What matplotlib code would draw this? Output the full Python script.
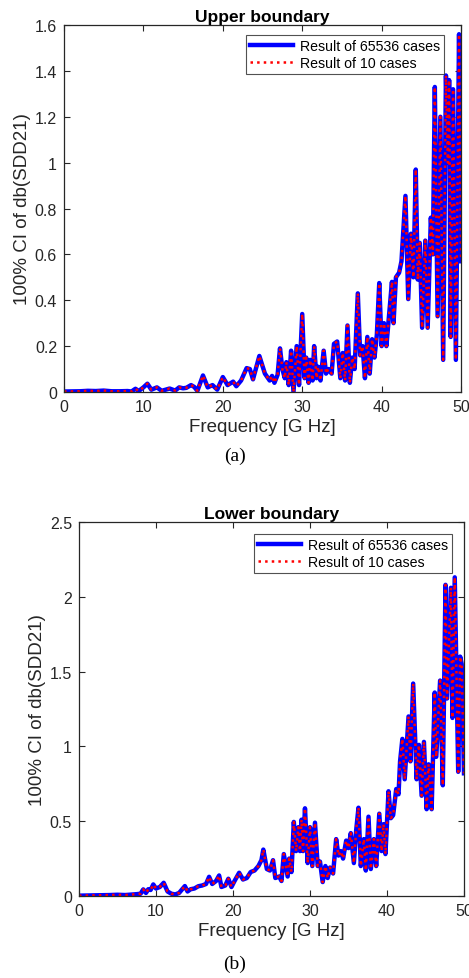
import numpy as np
import matplotlib
matplotlib.use("Agg")
import matplotlib.pyplot as plt
from matplotlib.ticker import FuncFormatter

# --- data (frequency in GHz, CI width)
up_freq = [0, 2, 3, 4, 5, 6, 7, 8, 8.5, 9.0, 9.4, 10.0, 10.5, 11.0, 11.7, 12.3,
           13.0, 13.3, 14.0, 14.5, 15.0, 15.4, 16.0, 16.4, 16.8, 17.5, 18.1,
           18.7, 19.3, 20.0, 20.6, 21.3, 21.7, 22.3, 23.0, 23.4, 23.8, 24.6,
           25.3, 25.9, 26.2, 26.5, 26.9, 27.2, 27.5, 27.8, 28.0, 28.3, 28.6,
           28.9, 29.3, 29.6, 30.0, 30.3, 30.5, 30.8, 31.0, 31.3, 31.5, 31.8,
           32.0, 32.3, 32.7, 33.0, 33.3, 33.7, 34.0, 34.4, 34.8, 35.1, 35.4,
           35.7, 36.0, 36.3, 36.6, 37.0, 37.3, 37.6, 37.9, 38.2, 38.5, 38.8,
           39.1, 39.4, 39.7, 40.0, 40.3, 40.6, 41.0, 41.3, 41.5, 41.8, 42.2,
           42.5, 43.0, 43.35, 43.7, 44.0, 44.3, 44.55, 44.8, 45.1, 45.5, 45.8,
           46.2, 46.45, 46.7, 47.05, 47.4, 47.75, 48.1, 48.35, 48.5, 48.7,
           49.0, 49.35, 49.75, 50.0]
up_val = [0.002, 0.003, 0.005, 0.004, 0.006, 0.003, 0.003, 0.004, 0.002, 0.014,
          0.004, 0.02, 0.036, 0.01, 0.02, 0.005, 0.012, 0.015, 0.006, 0.02,
          0.016, 0.018, 0.03, 0.022, 0.005, 0.072, 0.02, 0.03, 0.01, 0.065,
          0.03, 0.045, 0.025, 0.05, 0.104, 0.1, 0.055, 0.157, 0.08, 0.05,
          0.07, 0.04, 0.075, 0.19, 0.1, 0.06, 0.13, 0.03, 0.18, 0.0, 0.2,
          0.03, 0.34, 0.06, 0.15, 0.04, 0.14, 0.05, 0.2, 0.06, 0.11, 0.05,
          0.18, 0.08, 0.1, 0.08, 0.21, 0.22, 0.06, 0.17, 0.05, 0.29, 0.04,
          0.15, 0.1, 0.43, 0.16, 0.2, 0.06, 0.24, 0.08, 0.23, 0.15, 0.25,
          0.475, 0.2, 0.3, 0.2, 0.36, 0.48, 0.3, 0.5, 0.52, 0.57, 0.855,
          0.405, 0.69, 0.5, 0.97, 0.49, 0.65, 0.28, 0.66, 0.28, 0.76, 0.6,
          1.33, 0.33, 1.2, 0.14, 1.38, 1.0, 1.36, 0.24, 1.32, 0.14, 1.56, 0.57]

lo_freq = [0, 2, 4, 5, 6, 7, 7.5, 8.0, 8.35, 8.7, 9.0, 9.3, 9.65, 10.0, 10.5,
           11.0, 11.5, 12.0, 12.5, 13.0, 13.75, 14.1, 14.5, 15.0, 15.5, 16.0,
           16.5, 16.9, 17.3, 17.8, 18.2, 18.5, 19.0, 19.4, 19.8, 20.2, 20.8,
           21.3, 21.8, 22.3, 22.8, 23.3, 23.7, 23.94, 24.4, 24.8, 25.2, 25.5,
           26.0, 26.3, 26.6, 27.1, 27.3, 27.6, 27.9, 28.2, 28.5, 28.7, 28.9,
           29.1, 29.35, 29.7, 30.0, 30.3, 30.65, 31.0, 31.3, 31.65, 32.0, 32.3,
           32.6, 33.0, 33.4, 33.7, 34.0, 34.3, 34.7, 35.0, 35.3, 35.7, 36.0,
           36.3, 36.6, 37.0, 37.25, 37.6, 37.9, 38.3, 38.6, 39.0, 39.3, 39.55,
           39.8, 40.2, 40.5, 40.8, 41.2, 41.5, 41.7, 42.0, 42.3, 42.8, 43.05,
           43.4, 43.85, 44.15, 44.5, 44.8, 45.15, 45.4, 45.8, 46.2, 46.4, 46.9,
           47.25, 47.6, 47.8, 48.3, 48.5, 48.8, 49.25, 49.5, 49.7, 50.0]
lo_val = [0.002, 0.004, 0.006, 0.008, 0.006, 0.01, 0.012, 0.015, 0.044, 0.02,
          0.045, 0.04, 0.077, 0.05, 0.06, 0.088, 0.03, 0.015, 0.01, 0.02,
          0.066, 0.03, 0.045, 0.05, 0.065, 0.07, 0.08, 0.128, 0.08, 0.1,
          0.137, 0.06, 0.07, 0.115, 0.06, 0.1, 0.155, 0.11, 0.12, 0.16, 0.17,
          0.2, 0.24, 0.31, 0.18, 0.17, 0.239, 0.12, 0.13, 0.1, 0.28, 0.13,
          0.25, 0.16, 0.495, 0.3, 0.46, 0.3, 0.51, 0.3, 0.586, 0.22, 0.46,
          0.2, 0.49, 0.2, 0.23, 0.093, 0.2, 0.12, 0.19, 0.15, 0.38, 0.27,
          0.3, 0.25, 0.37, 0.32, 0.42, 0.22, 0.44, 0.59, 0.2, 0.38, 0.17,
          0.53, 0.18, 0.38, 0.2, 0.55, 0.3, 0.48, 0.28, 0.7, 0.52, 0.54,
          0.715, 0.68, 0.9, 1.05, 0.78, 1.2, 0.9, 1.42, 0.78, 1.01, 0.67,
          1.03, 0.58, 0.88, 0.58, 1.36, 0.93, 1.44, 0.74, 2.08, 1.32, 2.06,
          1.19, 2.13, 0.83, 1.6, 1.55, 0.82]

# the 10-case result overlays the full result
up_val10 = up_val
lo_val10 = lo_val

panels = [
    ("Upper boundary", up_freq, up_val, up_val10, [0, 0.2, 0.4, 0.6, 0.8, 1.0, 1.2, 1.4, 1.6], 1.6, "(a)"),
    ("Lower boundary", lo_freq, lo_val, lo_val10, [0, 0.5, 1.0, 1.5, 2.0, 2.5], 2.5, "(b)"),
]
x_ticks = [0, 10, 20, 30, 40, 50]

plt.rcParams['font.family'] = ['Liberation Sans', 'DejaVu Sans']
gray = '#262626'

fig = plt.figure(figsize=(4.69, 9.79), dpi=100)
axes_pos = [[0.1365, 0.5986, 0.8465, 0.3748],
            [0.1684, 0.0838, 0.8209, 0.3820]]
caption_y = [0.525, 0.006]
legend_anchor = [(0.524, 0.9635), (0.5416, 0.4535)]

for i, (title, f, v, v10, yt, ymax, cap) in enumerate(panels):
    ax = fig.add_axes(axes_pos[i])
    ax.plot(f, v, color='#0000ff', lw=3.2, solid_joinstyle='round', label='Result of 65536 cases')
    ax.plot(f, v10, color='#ff0000', lw=1.8, ls=':', label='Result of 10 cases')
    ax.set_xlim(0, 50)
    ax.set_ylim(0, ymax)
    ax.set_xticks(x_ticks)
    ax.set_yticks(yt)
    ax.yaxis.set_major_formatter(FuncFormatter(lambda t, p: '%g' % t))
    ax.tick_params(direction='in', length=4, width=0.8, top=True, right=True,
                   labelsize=11.5, colors=gray, pad=5)
    for s in ax.spines.values():
        s.set_color(gray)
        s.set_linewidth(0.9)
    ax.set_title(title, fontsize=12.5, fontweight='bold', pad=3)
    ax.set_xlabel('Frequency [G Hz]', fontsize=13.5, color=gray, labelpad=3)
    ax.set_ylabel('100% CI of db(SDD21)', fontsize=13.5, color=gray, labelpad=3)
    leg = ax.legend(loc='upper left', bbox_to_anchor=legend_anchor[i],
                    bbox_transform=fig.transFigure, fontsize=10.2, frameon=True,
                    fancybox=False, edgecolor='#262626', borderpad=0.3,
                    borderaxespad=0, handlelength=3.0, handletextpad=0.5,
                    labelspacing=0.2)
    leg.get_frame().set_linewidth(0.8)
    fig.text(0.5, caption_y[i], cap, ha='center', va='bottom', fontsize=14,
             family=['Liberation Serif', 'DejaVu Serif'])

fig.savefig('out.png', dpi=100)
